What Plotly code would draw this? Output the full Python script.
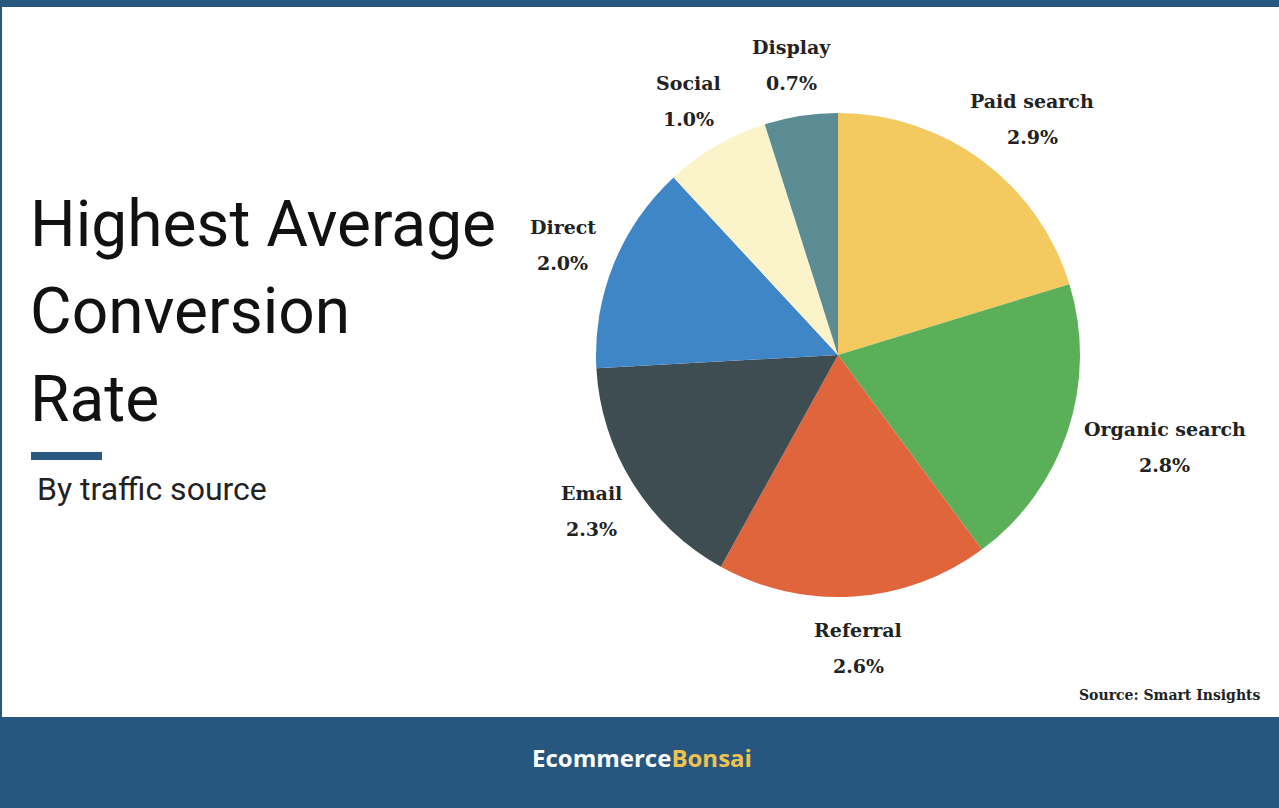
import math
import plotly.graph_objects as go

# ---- data ----
sources = ["Paid search", "Organic search", "Referral", "Email", "Direct", "Social", "Display"]
rates = [2.9, 2.8, 2.6, 2.3, 2.0, 1.0, 0.7]
colors = ["#F4CA60", "#5CAF59", "#E0643C", "#3E4D52", "#3F86C7", "#FBF3CA", "#5B8C93"]

title_lines = ["Highest Average", "Conversion", "Rate"]
subtitle = "By traffic source"
source_note = "Source: Smart Insights"

W, H = 1279, 808
NAVY = "#27577E"

def px(x):
    return x / W

def py(y):
    return 1 - y / H

# pie geometry (pixels)
CX, CY, R = 838, 355, 242

fig = go.Figure()
fig.add_trace(go.Pie(
    labels=sources, values=rates, sort=False, direction="clockwise", rotation=0,
    marker=dict(colors=colors, line=dict(width=0)),
    textinfo="none", hoverinfo="label+value", showlegend=False,
    domain=dict(x=[px(CX - R), px(CX + R)], y=[py(CY + R), py(CY - R)]),
))

annotations = []
shapes = []

# slice labels placed around the pie from the data angles
total = sum(rates)
cum = 0.0
LBL_FONT = dict(family="DejaVu Serif", size=19, color="#222222")
for name, val in zip(sources, rates):
    mid = (cum + val / 2) / total * 2 * math.pi
    cum += val
    s, c = math.sin(mid), math.cos(mid)
    w = len(name) * 11.8
    h = 64
    r0 = R * 1.08
    bx = CX + r0 * s + s * w / 2
    by = CY - r0 * c - c * h / 2
    annotations.append(dict(x=px(bx), y=py(by - 18), xref="paper", yref="paper",
                            text="<b>%s</b>" % name, showarrow=False, font=LBL_FONT,
                            xanchor="center", yanchor="middle"))
    annotations.append(dict(x=px(bx), y=py(by + 18), xref="paper", yref="paper",
                            text="<b>%.1f%%</b>" % val, showarrow=False, font=LBL_FONT,
                            xanchor="center", yanchor="middle"))

# title
for i, line in enumerate(title_lines):
    annotations.append(dict(x=px(28), y=py(224 + i * 87.5), xref="paper", yref="paper",
                            text=line, showarrow=False, xanchor="left", yanchor="middle",
                            font=dict(family="Roboto", size=64, color="#111111")))
annotations.append(dict(x=px(35), y=py(489), xref="paper", yref="paper",
                        text=subtitle, showarrow=False, xanchor="left", yanchor="middle",
                        font=dict(family="Roboto", size=32, color="#222222")))
annotations.append(dict(x=px(1263), y=py(695), xref="paper", yref="paper",
                        text="<b>%s</b>" % source_note, showarrow=False, xanchor="right",
                        yanchor="middle", font=dict(family="DejaVu Serif", size=14, color="#222222")))
annotations.append(dict(x=px(642), y=py(757), xref="paper", yref="paper",
                        text="<b>Ecommerce<span style='color:#F0C24E'>Bonsai</span></b>",
                        showarrow=False, xanchor="center", yanchor="middle",
                        font=dict(family="Open Sans", size=24, color="#FFFFFF")))

# frame / decorations
shapes.append(dict(type="rect", xref="paper", yref="paper", x0=0, x1=1, y0=py(7), y1=1,
                   fillcolor=NAVY, line=dict(width=0), layer="below"))
shapes.append(dict(type="rect", xref="paper", yref="paper", x0=0, x1=1, y0=0, y1=py(717),
                   fillcolor=NAVY, line=dict(width=0), layer="below"))
shapes.append(dict(type="rect", xref="paper", yref="paper", x0=0, x1=px(2), y0=py(717), y1=py(7),
                   fillcolor=NAVY, line=dict(width=0), layer="below"))
shapes.append(dict(type="rect", xref="paper", yref="paper", x0=px(31), x1=px(102), y0=py(460), y1=py(452),
                   fillcolor="#2A5880", line=dict(width=0)))

fig.update_layout(
    width=W, height=H, margin=dict(l=0, r=0, t=0, b=0),
    paper_bgcolor="#FFFFFF", plot_bgcolor="#FFFFFF",
    annotations=annotations, shapes=shapes,
)

fig.write_html("out.html", config={"displayModeBar": False})
